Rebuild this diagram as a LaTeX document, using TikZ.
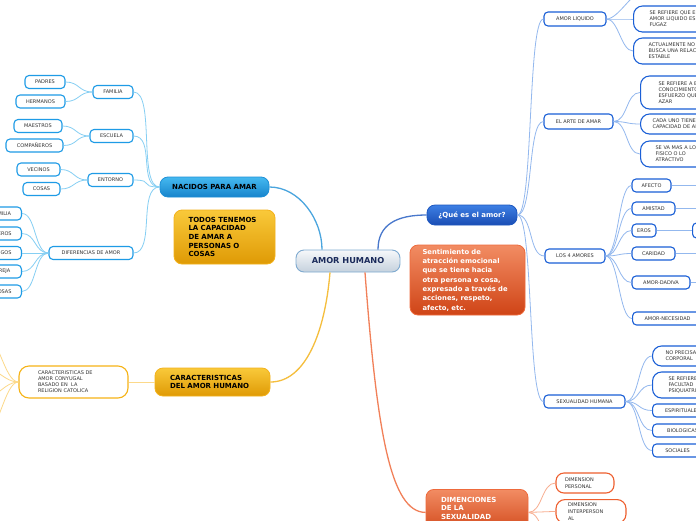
\documentclass[tikz,border=0pt]{standalone}
\usepackage{fontspec}
\setmainfont{DejaVu Sans}
\definecolor{cL}{HTML}{1E9BE6}
\definecolor{cLl}{HTML}{86CFF3}
\definecolor{cB}{HTML}{1A5FD6}
\definecolor{cBl}{HTML}{93B8EE}
\definecolor{cO}{HTML}{F6B316}
\definecolor{cOl}{HTML}{FCD98A}
\definecolor{cR}{HTML}{EE5E2E}
\definecolor{cRl}{HTML}{F8AE90}
\definecolor{txt}{HTML}{333333}
\definecolor{HTML45B9F0}{HTML}{45B9F0}
\definecolor{HTML1784CC}{HTML}{1784CC}
\definecolor{HTML1D8FD6}{HTML}{1D8FD6}
\definecolor{HTML3D7FE4}{HTML}{3D7FE4}
\definecolor{HTML1A4DB4}{HTML}{1A4DB4}
\definecolor{HTML1C56BF}{HTML}{1C56BF}
\definecolor{HTMLF9C93A}{HTML}{F9C93A}
\definecolor{HTMLDF9A05}{HTML}{DF9A05}
\definecolor{HTMLF3B21B}{HTML}{F3B21B}
\definecolor{HTMLF28C63}{HTML}{F28C63}
\definecolor{HTMLCF4416}{HTML}{CF4416}
\definecolor{HTMLEE6A3C}{HTML}{EE6A3C}
\definecolor{cenT}{HTML}{F6F8FA}
\definecolor{cenB}{HTML}{C5D1DD}
\definecolor{cenD}{HTML}{7FAAD0}
\definecolor{cenTx}{HTML}{1A2A5A}
\tikzset{
  leaf/.style={draw, fill=white, rounded corners=4pt, line width=1.1pt,
    font=\fontsize{5}{6}\selectfont, text=txt, inner sep=1pt, minimum height=13pt},
  leafL/.style={leaf, draw=cL},
  leafB/.style={leaf, draw=cB},
  leafO/.style={leaf, draw=cO},
  leafR/.style={leaf, draw=cR},
  bigleaf/.style={rounded corners=9pt, align=left, anchor=west, inner xsep=0pt, text width=95pt},
  lvl/.style={rounded corners=8pt, line width=0.8pt, font=\fontsize{7}{8.6}\selectfont\bfseries, inner sep=0pt},
  lvlLB/.style={lvl, top color=HTML45B9F0, bottom color=HTML1784CC, draw=HTML1D8FD6, text=black},
  lvlB/.style={lvl, top color=HTML3D7FE4, bottom color=HTML1A4DB4, draw=HTML1C56BF, text=white},
  lvlO/.style={lvl, top color=HTMLF9C93A, bottom color=HTMLDF9A05, draw=HTMLF3B21B, text=black},
  lvlR/.style={lvl, top color=HTMLF28C63, bottom color=HTMLCF4416, draw=HTMLEE6A3C, text=white},
  lnL/.style={draw=cLl, line width=0.8pt},
  lnB/.style={draw=cBl, line width=0.8pt},
  lnO/.style={draw=cOl, line width=0.8pt},
  lnR/.style={draw=cRl, line width=0.8pt},
}
\begin{document}
\begin{tikzpicture}[x=1pt,y=-1pt]
\useasboundingbox (0,0) rectangle (696,520);
\clip (0,0) rectangle (696,520);
\fill[white] (0,0) rectangle (696,520);

% ---------- main nodes ----------
\node[rounded corners=8pt, top color=cenT, bottom color=cenB, draw=cenD, line width=0.9pt,
  minimum width=104pt, minimum height=22pt, inner sep=0pt, text=cenTx,
  font=\fontsize{8.2}{10}\selectfont\bfseries] (ah) at (348,261) {AMOR HUMANO};
\node[lvlLB, minimum width=109pt, minimum height=20pt] (nac) at (214.5,187) {NACIDOS PARA AMAR};
\node[lvlO, align=left, text width=72pt, inner xsep=14.5pt, minimum height=54pt] (tod) at (224.5,237)
  {TODOS TENEMOS\\LA CAPACIDAD\\DE AMAR A\\PERSONAS O\\COSAS};
\node[lvlO, align=left, text width=85pt, inner xsep=15pt, minimum height=28pt] (car) at (212.5,382)
  {CARACTERISTICAS\\DEL AMOR HUMANO};
\node[lvlB, minimum width=90pt, minimum height=20pt] (q) at (472,215) {¿Qué es el amor?};
\node[lvlR, align=left, text width=90pt, inner xsep=12.5pt, minimum height=70pt,
  font=\fontsize{6.8}{9.3}\selectfont\bfseries] (sen) at (467.5,280)
  {Sentimiento de\\atracción emocional\\que se tiene hacia\\otra persona o cosa,\\expresado a través de\\acciones, respeto,\\afecto, etc.};
\node[lvlR, align=left, text width=72pt, inner xsep=15pt, inner ysep=5pt, anchor=north,
  minimum height=46pt, font=\fontsize{7}{8.5}\selectfont\bfseries] (dim) at (477,489)
  {DIMENCIONES\\DE LA\\SEXUALIDAD\\HUMANA};

% ---------- left (blue) ----------
\node[leafL, minimum width=40pt] (fam) at (113,92) {FAMILIA};
\node[leafL, minimum width=43pt] (esc) at (111.5,136) {ESCUELA};
\node[leafL, minimum width=45pt] (ent) at (110.5,180) {ENTORNO};
\node[leafL, minimum width=84pt] (dif) at (91,253) {DIFERENCIAS DE AMOR};
\node[leafL, minimum width=40pt] (pad) at (45,82) {PADRES};
\node[leafL, minimum width=49pt] (her) at (40.5,101.5) {HERMANOS};
\node[leafL, minimum width=48pt] (mae) at (38,126) {MAESTROS};
\node[leafL, minimum width=57pt] (com) at (34.5,145.5) {COMPAÑEROS};
\node[leafL, minimum width=43pt] (vec) at (38.5,169.5) {VECINOS};
\node[leafL, minimum width=37pt] (cos) at (41.5,189) {COSAS};
\node[leafL, minimum width=40pt, anchor=east] (d1) at (22,213.5) {FAMILIA};
\node[leafL, minimum width=55pt, anchor=east] (d2) at (22,233.5) {COMPAÑEROS};
\node[leafL, minimum width=40pt, anchor=east] (d3) at (22,253) {AMIGOS};
\node[leafL, minimum width=40pt, anchor=east] (d4) at (22,271.5) {PAREJA};
\node[leafL, minimum width=37pt, anchor=east] (d5) at (22,291.5) {COSAS};

\foreach \c in {fam,esc,ent,dif}
  \draw[lnL] (nac.west) .. controls +(-22,0) and +(22,0) .. (\c.east);
\foreach \p/\c in {fam/pad,fam/her,esc/mae,esc/com,ent/vec,ent/cos,dif/d1,dif/d2,dif/d3,dif/d4,dif/d5}
  \draw[lnL] (\p.west) .. controls +(-14,0) and +(14,0) .. (\c.east);

% ---------- left bottom (orange) ----------
\node[leafO, rounded corners=10pt, align=left, text width=71pt, inner xsep=19pt, minimum height=32pt,
  font=\fontsize{5}{5.9}\selectfont] (con) at (73.5,382)
  {CARACTERISTICAS DE\\AMOR CONYUGAL\\BASADO EN~ LA\\RELIGION CATOLICA};
\coordinate (o1) at (-16,333);
\coordinate (o2) at (-16,368);
\coordinate (o3) at (-16,398);
\coordinate (o4) at (-16,436);
\draw[lnO] (car.west) -- (con.east);
\foreach \c in {o1,o2,o3,o4}
  \draw[lnO] (con.west) .. controls +(-14,0) and +(14,0) .. (\c);

% ---------- right (blue) ----------
\node[leafB, minimum width=62pt, minimum height=14pt] (al) at (575,19) {AMOR LIQUIDO};
\node[leafB, minimum width=69pt, minimum height=15pt] (ar) at (578.5,121.5) {EL ARTE DE AMAR};
\node[leafB, minimum width=60pt, minimum height=14pt] (la) at (575,256) {LOS 4 AMORES};
\node[leafB, minimum width=81pt] (sh) at (584.5,401.5) {SEXUALIDAD HUMANA};
\foreach \c in {al,ar,la,sh}
  \draw[lnB] (q.east) .. controls +(16,0) and +(-16,0) .. (\c.west);

\node[leafB, bigleaf, minimum height=26pt] (al2) at (633,19)
  {\hspace*{16pt}SE REFIERE QUE EL\\\hspace*{16pt}AMOR LIQUIDO ES\\\hspace*{16pt}FUGAZ};
\node[leafB, bigleaf, minimum height=26pt] (al3) at (633,51)
  {\hspace*{15pt}ACTUALMENTE NO SE\\\hspace*{15pt}BUSCA UNA RELACION\\\hspace*{15pt}ESTABLE};
\coordinate (al1) at (645,-10);
\draw[lnB] (al.east) .. controls +(12,0) and +(-12,0) .. (al1);
\foreach \c in {al2,al3}
  \draw[lnB] (al.east) .. controls +(12,0) and +(-12,0) .. (\c.west);

\node[leafB, bigleaf, minimum height=33pt] (ar1) at (640,92.5)
  {\hspace*{18pt}SE REFIERE A EL\\\hspace*{18pt}CONOCIMIENTO Y\\\hspace*{18pt}ESFUERZO QUE AL\\\hspace*{18pt}AZAR};
\node[leafB, bigleaf, minimum height=20pt] (ar2) at (640,124)
  {\hspace*{12pt}CADA UNO TIENE LA\\\hspace*{12pt}CAPACIDAD DE AMAR};
\node[leafB, bigleaf, minimum height=26pt] (ar3) at (640,154)
  {\hspace*{15pt}SE VA MAS A LO\\\hspace*{15pt}FISICO O LO\\\hspace*{15pt}ATRACTIVO};
\foreach \c in {ar1,ar2,ar3}
  \draw[lnB] (ar.east) .. controls +(14,0) and +(-14,0) .. (\c.west);

\node[leafB, minimum width=39pt] (af) at (651.5,185.5) {AFECTO};
\node[leafB, minimum width=43pt] (am) at (653.5,208.5) {AMISTAD};
\node[leafB, minimum width=24pt] (er) at (644,230.5) {EROS};
\node[leafB, minimum width=43pt] (ca) at (653.5,253.5) {CARIDAD};
\node[leafB, minimum width=58pt] (ad) at (661,282.5) {AMOR-DADIVA};
\node[leafB, minimum width=70pt, anchor=west] (an) at (632,318.5) {AMOR-NECESIDAD};
\node[leafB, minimum width=30pt, minimum height=15pt, anchor=west] (er2) at (692,230.5) {};
\foreach \c in {af,am,er,ca,ad,an}
  \draw[lnB] (la.east) .. controls +(13,0) and +(-13,0) .. (\c.west);
\coordinate (af2) at (710,185.5);
\coordinate (am2) at (710,208.5);
\coordinate (ca2) at (710,253.5);
\coordinate (ad2) at (710,282.5);
\draw[lnB] (af.east) -- (af2);
\draw[lnB] (am.east) -- (am2);
\draw[lnB] (er.east) -- (er2.west);
\draw[lnB] (ca.east) -- (ca2);
\draw[lnB] (ad.east) -- (ad2);

\node[leafB, bigleaf, minimum height=20pt] (s1) at (652,356)
  {\hspace*{13pt}NO PRECISA DE LO\\\hspace*{13pt}CORPORAL};
\node[leafB, bigleaf, minimum height=26pt] (s2) at (652,385)
  {\hspace*{16pt}SE REFIERE A LA\\\hspace*{16pt}FACULTAD\\\hspace*{16pt}PSIQUIATRICA};
\node[leafB, anchor=west, minimum width=60pt, align=left] (s3) at (652,410.5) {ESPIRITUALES};
\node[leafB, anchor=west, minimum width=60pt] (s4) at (652,430.5) {BIOLOGICAS};
\node[leafB, anchor=west, minimum width=50pt] (s5) at (652,450.5) {SOCIALES};
\foreach \c in {s1,s2,s3,s4,s5}
  \draw[lnB] (sh.east) .. controls +(14,0) and +(-14,0) .. (\c.west);

% ---------- bottom (red) ----------
\node[leafR, rounded corners=8pt, align=left, text width=40pt, inner xsep=9pt, minimum height=20pt,
  font=\fontsize{5}{6.5}\selectfont] (dp) at (585,483) {DIMENSION\\PERSONAL};
\node[leafR, rounded corners=9pt, align=left, text width=46pt, inner xsep=12pt, inner ysep=3pt,
  anchor=north, font=\fontsize{5}{7}\selectfont] (di) at (591,499) {DIMENSION\\INTERPERSON\\AL};
\coordinate (d3r) at (556,545);
\foreach \c in {dp,di}
  \draw[lnR] (dim.east) .. controls +(14,0) and +(-14,0) .. (\c.west);
\draw[lnR] (dim.east) .. controls +(14,0) and +(-14,0) .. (d3r);

% ---------- main connectors ----------
\draw[draw=HTML1D8FD6!80!white, line width=1.3pt] ([xshift=-26pt]ah.north) .. controls +(0,-30) and +(30,0) .. (nac.east);
\draw[draw=HTML1C56BF!80!white, line width=1.3pt] ([xshift=30pt]ah.north) .. controls +(0,-25) and +(-30,0) .. (q.west);
\draw[draw=HTMLF3B21B!85!white, line width=1.3pt] ([xshift=-18pt]ah.south) .. controls +(-5,60) and +(35,0) .. (car.east);
\draw[draw=HTMLEE6A3C!85!white, line width=1.3pt] ([xshift=17pt]ah.south) .. controls +(12,160) and +(-35,0) .. (dim.west);
\end{tikzpicture}
\end{document}
